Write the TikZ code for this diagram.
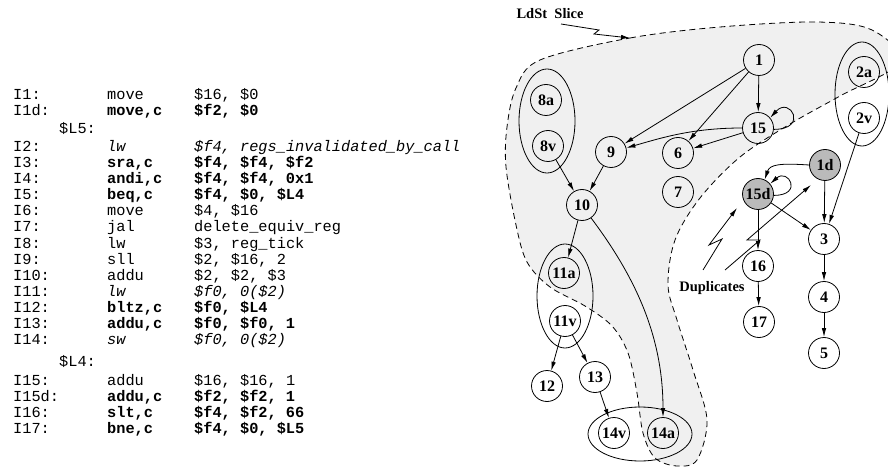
\documentclass[tikz,border=0pt]{standalone}
\usepackage{fontspec}
\setmainfont{Liberation Serif}
\setmonofont{Liberation Mono}
\usetikzlibrary{arrows.meta,shapes.geometric,calc}
\newcommand{\crow}[3]{\makebox[94pt][l]{#1}\makebox[87pt][l]{#2}#3}
\newcommand{\crowb}[3]{\crow{#1}{\bfseries #2}{\bfseries #3}}
\newcommand{\crowi}[3]{\crow{#1}{\itshape #2}{\itshape #3}}
\tikzset{
  >={Latex[length=9pt,width=4.5pt]},
  gn/.style={circle,draw,line width=0.8pt,minimum size=31pt,inner sep=0pt,
    font=\bfseries\fontsize{16}{16}\selectfont},
  gnd/.style={gn,fill=black!27},
  grp/.style={ellipse,draw,line width=0.8pt,inner sep=0pt},
  garc/.style={->,line width=0.8pt},
  zap/.style={->,line width=0.8pt},
  slice/.style={draw,dash pattern=on 6pt off 4pt,line width=0.8pt,fill=black!6},
  code/.style={anchor=base west,inner sep=0pt,
    font=\ttfamily\fontsize{15.3}{15.3}\selectfont},
  note/.style={font=\bfseries\fontsize{14.5}{14.5}\selectfont,inner sep=0pt},
}
\begin{document}
\begin{tikzpicture}[x=1pt,y=-1pt]
  \useasboundingbox (0,0) rectangle (888,470);
  % code listing
  \node[code] (r1)   at (13,100) {\crow{I1:}{move}{\$16, \$0}};
  \node[code] (r1d)  at (13,116) {\crowb{I1d:}{move,c}{\$f2, \$0}};
  \node[code] (l5)   at (59,134) {\$L5:};
  \node[code] (r2)   at (13,152) {\crowi{I2:}{lw}{\$f4, regs\_invalidated\_by\_call}};
  \node[code] (r3)   at (13,168) {\crowb{I3:}{sra,c}{\$f4, \$f4, \$f2}};
  \node[code] (r4)   at (13,184) {\crowb{I4:}{andi,c}{\$f4, \$f4, 0x1}};
  \node[code] (r5)   at (13,200) {\crowb{I5:}{beq,c}{\$f4, \$0, \$L4}};
  \node[code] (r6)   at (13,216) {\crow{I6:}{move}{\$4, \$16}};
  \node[code] (r7)   at (13,232) {\crow{I7:}{jal}{delete\_equiv\_reg}};
  \node[code] (r8)   at (13,248) {\crow{I8:}{lw}{\$3, reg\_tick}};
  \node[code] (r9)   at (13,264) {\crow{I9:}{sll}{\$2, \$16, 2}};
  \node[code] (r10)  at (13,280) {\crow{I10:}{addu}{\$2, \$2, \$3}};
  \node[code] (r11)  at (13,296) {\crowi{I11:}{lw}{\$f0, 0(\$2)}};
  \node[code] (r12)  at (13,312) {\crowb{I12:}{bltz,c}{\$f0, \$L4}};
  \node[code] (r13)  at (13,328) {\crowb{I13:}{addu,c}{\$f0, \$f0, 1}};
  \node[code] (r14)  at (13,344) {\crowi{I14:}{sw}{\$f0, 0(\$2)}};
  \node[code] (l4)   at (59,366) {\$L4:};
  \node[code] (r15)  at (13,385) {\crow{I15:}{addu}{\$16, \$16, 1}};
  \node[code] (r15d) at (13,401) {\crowb{I15d:}{addu,c}{\$f2, \$f2, 1}};
  \node[code] (r16)  at (13,417) {\crowb{I16:}{slt,c}{\$f4, \$f2, 66}};
  \node[code] (r17)  at (13,433) {\crowb{I17:}{bne,c}{\$f4, \$0, \$L5}};
  % the slice
  \draw[slice] plot[smooth cycle,tension=0.55] coordinates {
    (540,60) (630,38) (720,27) (817,22) (872,30) (900,62) (840,96) (790,124)
    (740,157) (700,198) (675,240) (668,285) (677,320) (693,370) (707,420)
    (697,460) (677,466) (655,458) (643,433) (637,393) (628,353) (612,326)
    (585,306) (550,287) (527,262) (516,225) (506,167) (507,127) (516,88)};
  % groups
  \node[grp,minimum width=56pt,minimum height=104pt] (e8)  at (547,121) {};
  \node[grp,minimum width=54pt,minimum height=104pt] (e2)  at (862,94)  {};
  \node[grp,minimum width=56pt,minimum height=104pt] (e11) at (565,296) {};
  \node[grp,minimum width=104pt,minimum height=54pt] (e14) at (640,434) {};
  % nodes
  \node[gn] (n1)   at (759,60)  {1};
  \node[gn] (n2a)  at (864,72)  {2a};
  \node[gn] (n2v)  at (864,118) {2v};
  \node[gn] (n8a)  at (546,100) {8a};
  \node[gn] (n8v)  at (548,146) {8v};
  \node[gn] (n9)   at (611,152) {9};
  \node[gn] (n6)   at (678,153) {6};
  \node[gn] (n7)   at (678,192) {7};
  \node[gn] (n15)  at (758,128) {15};
  \node[gn] (n10)  at (582,205) {10};
  \node[gnd] (n1d) at (825,165) {1d};
  \node[gnd] (n15d) at (758,194) {15d};
  \node[gn] (n3)   at (824,239) {3};
  \node[gn] (n4)   at (824,297) {4};
  \node[gn] (n5)   at (824,353) {5};
  \node[gn] (n16)  at (758,266) {16};
  \node[gn] (n17)  at (759,322) {17};
  \node[gn] (n11a) at (564,273) {11a};
  \node[gn] (n11v) at (565,321) {11v};
  \node[gn] (n12)  at (547,386) {12};
  \node[gn] (n13)  at (595,377) {13};
  \node[gn] (n14v) at (614,433) {14v};
  \node[gn] (n14a) at (663,433) {14a};
  % arcs
  \draw[garc] (n1) -- (n9);
  \draw[garc] (n1) -- (n6);
  \draw[garc] (n1) -- (n15);
  \draw[garc] (n15.-5) .. controls +(35,0) and +(20,-22) .. (n15.40);
  \draw[garc] (n15.west) .. controls +(-50,0) and +(35,-10) .. (n9.15);
  \draw[garc] (n15) -- (n6);
  \draw[garc] (n8v) -- (n10);
  \draw[garc] (n9) -- (n10);
  \draw[garc] (n10) -- (n11a);
  \draw[garc] (n10.-55) .. controls +(45,60) and +(0,-80) .. (n14a.north);
  \draw[garc] (n11v) -- (n12);
  \draw[garc] (n11v) -- (n13);
  \draw[garc] (n13) -- (n14v);
  \draw[garc] (n1d.west) .. controls +(-30,-2) and +(5,-15) .. (n15d.65);
  \draw[garc] (n15d.-5) .. controls +(30,0) and +(18,-16) .. (n15d.40);
  \draw[garc] (n1d) -- (n3);
  \draw[garc] (n15d) -- (n3);
  \draw[garc] (n2v) -- (n3);
  \draw[garc] (n15d) -- (n16);
  \draw[garc] (n16) -- (n17);
  \draw[garc] (n3) -- (n4);
  \draw[garc] (n4) -- (n5);
  % labels and their pointers
  \node[note] (lbl) at (550,14) {LdSt\ \ Slice};
  \node[note] (dup) at (712,288) {Duplicates};
  \coordinate (t1) at (630,38);
  \coordinate (t2) at (737,208);
  \coordinate (t3) at (811,185);
  \draw[zap] (561,24) -- (599,30) -- (594,34) -- (t1);
  \draw[zap] (703,270) -- (722,239) -- (709,245) -- (t2);
  \draw[zap] (725,270) -- (760,240) -- (747,240) -- (t3);
\end{tikzpicture}
\end{document}
